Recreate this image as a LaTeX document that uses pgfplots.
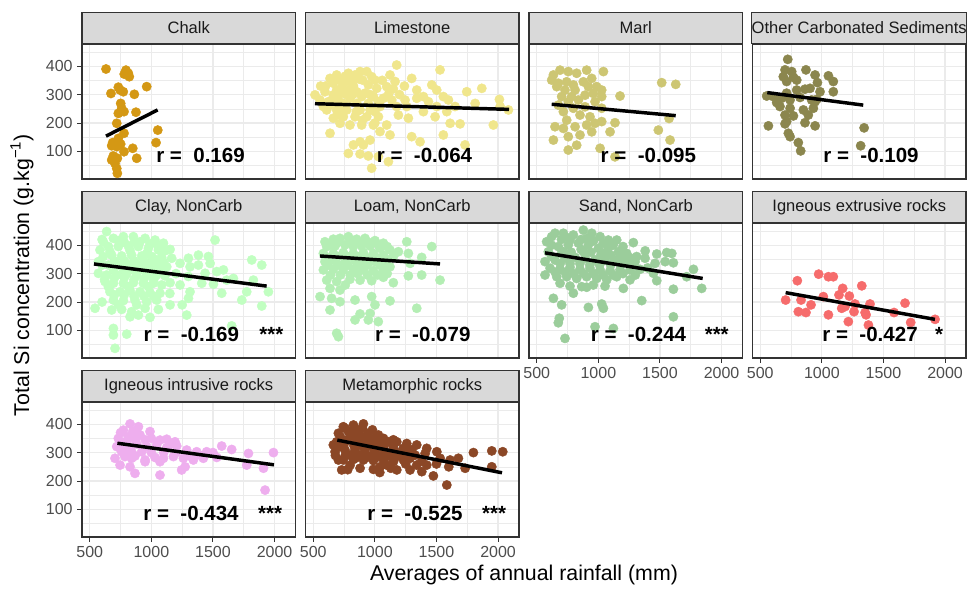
\documentclass[border=0pt]{standalone}
\usepackage{fontspec}
\setmainfont{Liberation Sans}
\usepackage{pgfplots}
\pgfplotsset{compat=1.18}

\definecolor{chalk}{RGB}{212,152,20}
\definecolor{limestone}{RGB}{240,230,140}
\definecolor{marl}{RGB}{205,198,115}
\definecolor{othercarb}{RGB}{139,134,78}
\definecolor{clay}{RGB}{193,255,193}
\definecolor{loam}{RGB}{180,238,180}
\definecolor{sand}{RGB}{155,205,155}
\definecolor{igext}{RGB}{246,108,108}
\definecolor{igint}{RGB}{238,174,238}
\definecolor{meta}{RGB}{139,71,38}
\definecolor{borderc}{RGB}{51,51,51}
\definecolor{gridc}{RGB}{235,235,235}
\definecolor{stripc}{RGB}{217,217,217}
\definecolor{tickc}{RGB}{77,77,77}
\definecolor{stript}{RGB}{26,26,26}

\tikzset{rlab/.style={font=\bfseries\fontsize{15.4}{16}\selectfont, anchor=base, inner sep=0pt}}

\pgfplotsset{
  facet/.style={
    scale only axis, width=160.125pt, height=101.25pt,
    xmin=437, xmax=2170, ymin=3, ymax=478,
    clip marker paths=true,
    axis line style={draw=borderc, line width=0.8pt},
    xtick={500,1000,1500,2000}, ytick={100,200,300,400},
    minor xtick={750,1250,1750}, minor ytick={50,150,250,350,450},
    xmajorgrids, ymajorgrids, xminorgrids, yminorgrids,
    major grid style={draw=gridc, line width=0.9pt},
    minor grid style={draw=gridc, line width=0.45pt},
    tick align=outside, tick pos=left,
    major tick length=3.5pt, minor tick length=0pt,
    ticklabel style={font=\fontsize{12}{13}\selectfont, text=tickc},
    /pgf/number format/assume math mode=true,
    /pgf/number format/1000 sep={},
    xticklabels={}, yticklabels={},
    xtick style={draw=none}, ytick style={draw=none},
    every axis title/.style={at={(0.5,1)}, anchor=south, draw=borderc, fill=stripc,
      line width=0.8pt, minimum width=160.125pt, minimum height=23.25pt, inner sep=0pt,
      text=stript, font=\fontsize{12.4}{13}\selectfont},
  },
  showx/.style={xticklabels={500,1000,1500,2000}, xtick style={draw=borderc, line width=0.75pt}},
  showy/.style={yticklabels={100,200,300,400}, ytick style={draw=borderc, line width=0.75pt}},
  pts/.style={only marks, color=#1, mark=*, mark size=3.5pt, mark options={draw=#1, fill=#1, line width=0.3pt}},
  reg/.style={black, line width=2.6pt, no marks},
}

\begin{document}
\begin{tikzpicture}
\useasboundingbox (0,0) rectangle (726pt,-442.5pt);

% ---------------- Row 1 ----------------
\begin{axis}[facet, showy, at={(61.5pt,-33pt)}, anchor=north west, title={Chalk}]
\addplot[pts=chalk] coordinates {
(632,390) (794,386) (813,375) (780,372) (821,363) (732,326) (746,316) (672,304) (772,310) (862,301)
(962,328) (751,269) (759,252) (778,240) (732,234) (875,238) (719,199) (1052,175) (732,146) (1038,131)
(678,120) (719,117) (849,111) (778,99) (691,84) (724,76) (881,76) (678,70) (705,58) (719,40)
(724,23) (751,126) (778,164) (686,131)};
\addplot[reg] coordinates {(632,154) (1051,246)};
\node[rlab] at (axis cs:1399,61) {r = \ 0.169};
\end{axis}

\begin{axis}[facet, at={(229.125pt,-33pt)}, anchor=north west, title={Limestone}]
\addplot[pts=limestone] coordinates {
(636,357) (690,369) (785,375) (880,381) (934,381) (974,363) (901,351) (771,346) (663,340) (731,326)
(826,330) (947,334) (1015,322) (853,310) (758,302) (663,299) (595,310) (514,299) (555,281) (623,275)
(704,281) (798,287) (893,293) (988,293) (1069,287) (1137,281) (1177,404) (1164,346) (1123,369) (1096,328)
(1245,281) (1299,357) (1340,316) (1394,293) (1462,334) (1529,387) (1502,316) (1556,293) (1597,281) (1651,258)
(1746,310) (1868,322) (1814,269) (1962,193) (2011,283) (2084,246) (2017,258) (1584,240) (1489,222) (1556,158)
(1394,240) (1340,287) (1272,217) (1177,258) (1042,258) (961,246) (880,246) (771,246) (690,246) (609,246)
(663,217) (744,222) (839,222) (934,222) (1029,222) (1096,193) (988,193) (893,193) (798,193) (717,199)
(636,164) (1042,170) (1123,158) (961,140) (880,134) (826,123) (907,123) (785,93) (880,91) (947,84)
(1029,82) (1110,64) (974,41) (1732,123) (1299,152) (1367,134) (1611,199) (1692,197) (1435,275) (1502,258)
(1029,275) (1259,258) (1191,228) (582,258) (717,351) (812,351) (744,269) (853,269) (947,269) (690,316)
(785,316) (920,305) (839,369) (1001,351) (636,264)
(600,330) (700,300) (760,365) (820,300) (870,355) (960,300) (1060,350) (1110,300) (650,280) (750,250)
(850,240) (1000,240) (1150,320) (1200,300) (560,330) (1240,330) (900,210) (1000,200) (700,230)};
\addplot[reg] coordinates {(514,268) (2089,248)};
\node[rlab] at (axis cs:1403,61) {r = \ -0.064};
\end{axis}

\begin{axis}[facet, at={(396.75pt,-33pt)}, anchor=north west, title={Marl}]
\addplot[pts=marl] coordinates {
(689,386) (635,369) (621,351) (756,381) (824,375) (905,386) (1041,381) (675,340) (743,345) (797,334)
(878,345) (946,357) (986,328) (1027,316) (959,304) (892,298) (811,316) (729,316) (662,328) (1176,295)
(838,281) (756,275) (675,263) (716,240) (797,252) (892,257) (973,275) (1027,252) (932,222) (851,228)
(743,210) (648,187) (716,181) (811,187) (905,193) (973,199) (1027,205) (1135,201) (1095,169) (946,169)
(851,158) (756,152) (635,140) (824,122) (756,105) (1014,111) (1135,81) (1514,342) (1628,336) (1574,216)
(1487,175) (1582,140) (1027,293) (783,293) (702,293) (919,328)};
\addplot[reg] coordinates {(621,266) (1628,226)};
\node[rlab] at (axis cs:1406,61) {r = \ -0.095};
\end{axis}

\begin{axis}[facet, at={(564.375pt,-33pt)}, anchor=north west, title={Other Carbonated Sediments}]
\addplot[pts=othercarb] coordinates {
(723,424) (701,387) (755,381) (687,363) (769,361) (714,346) (796,351) (871,387) (945,369) (1053,366)
(1093,346) (964,342) (904,322) (985,310) (1093,310) (796,316) (863,319) (552,295) (606,293) (674,287)
(742,281) (823,290) (945,275) (958,283) (660,258) (742,252) (850,246) (931,252) (701,228) (769,225)
(863,201) (945,190) (714,205) (566,190) (701,197) (728,164) (742,152) (809,131) (828,102) (1343,183)
(1315,120) (917,281) (714,305) (633,272) (890,228)};
\addplot[reg] coordinates {(557,307) (1336,263)};
\node[rlab] at (axis cs:1399,61) {r = \ -0.109};
\end{axis}

% ---------------- Row 2 ----------------
\begin{axis}[facet, showy, at={(61.5pt,-167.25pt)}, anchor=north west, title={Clay, NonCarb}]
\addplot[pts=clay] coordinates {
(637,448) (692,424) (773,430) (854,430) (949,424) (1030,418) (1098,407) (1152,385) (1517,418)
(583,383) (651,395) (732,395) (813,397) (895,395) (976,389) (1057,383)
(610,360) (678,365) (759,362) (840,365) (922,362) (1003,360) (1084,357) (1165,354) (1301,354) (1382,365) (1463,360) (1815,348)
(570,342) (651,330) (732,330) (813,330) (895,330) (976,330) (1057,330) (1125,324) (1233,336) (1314,324) (1382,330) (1477,336) (1585,313) (1896,330)
(570,301) (637,295) (719,295) (800,299) (881,295) (962,295) (1043,295) (1111,292) (1436,301) (1531,307) (1666,283)
(624,272) (692,266) (773,266) (854,268) (935,266) (1016,266) (1084,260) (1152,268) (1233,260) (1409,266) (1504,263) (1612,277) (1828,277)
(664,236) (746,236) (827,240) (908,236) (989,233) (1070,231) (1314,236) (1571,231) (1774,236) (1950,236)
(692,207) (773,205) (867,207) (962,201) (1043,207) (1301,213) (1734,207)
(543,178) (678,172) (759,174) (840,166) (949,178) (1057,174) (1152,190) (1896,186)
(827,148) (895,154) (989,146) (1287,154)
(692,107) (800,87) (692,84) (705,37) (1652,116)
(610,412) (732,416) (908,412) (989,404) (664,377) (827,381) (962,371) (1043,348) (692,313) (854,313)
(1016,313) (773,313) (935,313) (651,254) (813,254) (976,254) (732,190) (881,190)
(600,420) (780,410) (860,410) (1050,400) (1110,380) (600,330) (700,345) (780,345) (860,345) (940,345)
(1020,345) (1100,340) (620,280) (700,285) (780,285) (860,280) (940,280) (1020,280) (1200,300) (1300,290)
(1100,310) (700,225) (780,225) (860,220) (940,220) (1020,220) (1150,230) (600,200) (1250,190)};
\addplot[reg] coordinates {(534,334) (1936,256)};
\node[rlab] at (axis cs:1325,61) {r = \ -0.169};
\node[rlab] at (axis cs:1975,61) {***};
\end{axis}

\begin{axis}[facet, at={(229.125pt,-167.25pt)}, anchor=north west, title={Loam, NonCarb}]
\addplot[pts=loam] coordinates {
(595,412) (663,421) (717,424) (785,430) (852,421) (920,424) (1001,416) (1069,407) (1259,412) (1462,395)
(609,395) (677,397) (758,401) (825,395) (893,397) (961,397) (1042,389) (1123,383) (1191,377) (1272,371)
(582,371) (663,371) (744,374) (825,371) (907,374) (988,371) (1069,365) (1150,360)
(595,342) (677,346) (758,342) (839,346) (920,342) (1001,342) (1083,338) (1286,336) (1380,357)
(582,313) (663,315) (744,313) (825,315) (907,313) (988,310) (1069,313) (1123,324) (1272,292) (1380,295) (1529,277)
(609,277) (690,272) (798,280) (880,277) (974,275) (1069,287) (1150,268)
(636,248) (717,242) (555,219) (649,213) (717,201) (839,207) (974,219) (1123,204) (1001,190) (961,160)
(880,158) (839,137) (636,172) (1340,178) (1028,131) (947,137) (690,90) (704,78)
(640,400) (700,410) (800,415) (870,410) (950,410) (1030,400) (1100,395) (620,355) (700,360) (780,360)
(860,360) (940,355) (1020,355) (1100,350) (620,330) (700,330) (780,330) (860,330) (940,330) (1040,330)
(640,295) (720,295) (800,295) (860,300) (940,295) (1020,295) (760,260) (1100,300)};
\addplot[reg] coordinates {(555,362) (1529,334)};
\node[rlab] at (axis cs:1389,61) {r = \ -0.079};
\end{axis}

\begin{axis}[facet, showx, at={(396.75pt,-167.25pt)}, anchor=north west, title={Sand, NonCarb}]
\addplot[pts=sand] coordinates {
(580,412) (648,442) (716,442) (797,436) (878,453) (946,442) (1014,430) (1081,418) (1149,418) (1284,409)
(594,377) (675,395) (756,401) (838,407) (919,401) (1000,389) (1081,389) (1163,377) (1230,371) (1311,360) (1474,369) (1555,374) (1596,371)
(567,342) (648,348) (729,354) (811,357) (892,354) (973,348) (1054,348) (1135,348) (1217,342) (1298,342) (1379,354) (1460,336) (1542,342) (1609,338)
(608,319) (689,315) (770,322) (851,315) (932,319) (1014,313) (1095,310) (1176,313) (1257,313) (1338,315) (1447,301) (1772,315)
(567,295) (662,289) (743,289) (824,283) (905,289) (987,283) (1068,278) (1149,289) (1257,278) (1474,275) (1717,289) (1839,248)
(689,266) (770,256) (865,254) (959,260) (1054,256) (1203,248) (1609,245)
(635,213) (702,190) (797,231) (905,252) (919,181) (1027,193) (1041,178) (1352,205) (1609,148) (683,143)
(675,127) (729,72) (973,113) (1122,107)
(621,430) (770,418) (905,424) (1041,407) (716,377) (878,377) (1041,371)
(620,400) (700,420) (760,425) (860,420) (960,415) (1120,400) (1200,395) (1380,380) (620,360) (700,370)
(780,375) (860,385) (940,375) (1020,365) (1100,365) (1180,360) (1260,355) (690,335) (770,335) (850,335)
(930,330) (1010,330) (1100,330) (1180,330) (1260,330) (650,305) (730,305) (800,300) (880,300) (960,300)
(1040,295) (1120,295) (1200,300) (1300,295) (1400,320)};
\addplot[reg] coordinates {(567,373) (1847,283)};
\node[rlab] at (axis cs:1326,61) {r = \ -0.244};
\node[rlab] at (axis cs:1961,61) {***};
\end{axis}

\begin{axis}[facet, showx, at={(564.375pt,-167.25pt)}, anchor=north west, title={Igneous extrusive rocks}]
\addplot[pts=igext] coordinates {
(706,207) (801,275) (831,207) (809,166) (871,163) (912,190) (974,298) (1053,289) (1093,289) (1012,219)
(1053,155) (1139,225) (1169,248) (1161,178) (1188,184) (1223,221) (1269,193) (1261,166) (1215,131) (1324,257)
(1351,163) (1359,155) (1378,119) (1391,193) (1586,163) (1675,196) (1721,128) (1919,139)};
\addplot[reg] coordinates {(706,233) (1918,139)};
\node[rlab] at (axis cs:1391,61) {r = \ -0.427};
\node[rlab] at (axis cs:1951,61) {*};
\end{axis}

% ---------------- Row 3 ----------------
\begin{axis}[facet, showx, showy, at={(61.5pt,-301.5pt)}, anchor=north west, title={Igneous intrusive rocks}]
\addplot[pts=igint] coordinates {
(827,401) (895,391) (773,379) (989,374) (732,350) (813,356) (908,362) (1070,344) (1125,347) (1192,338)
(719,321) (800,327) (881,330) (962,321) (1043,327) (1125,318) (1206,323) (1287,309) (1368,303) (1449,303)
(1571,323) (1652,311) (1788,297) (1991,300)
(705,280) (786,286) (867,288) (949,274) (1030,283) (1098,280) (1179,286) (1260,280) (1341,274) (1422,280) (1531,283)
(746,256) (827,250) (949,268) (1070,268) (1274,250) (1774,256) (1910,245) (867,227) (1070,221) (1246,239) (1923,168)
(759,303) (840,303) (922,303) (881,368) (840,280)
(750,370) (850,375) (800,340) (870,345) (950,345) (1000,350) (780,300) (1000,300) (1100,300) (1200,300)
(1300,290) (1400,290) (1500,300) (1160,330) (760,330)};
\addplot[reg] coordinates {(724,333) (1995,257)};
\node[rlab] at (axis cs:1322,61) {r = \ -0.434};
\node[rlab] at (axis cs:1964,61) {***};
\end{axis}

\begin{axis}[facet, showx, at={(229.125pt,-301.5pt)}, anchor=north west, title={Metamorphic rocks}]
\addplot[pts=meta] coordinates {
(744,391) (826,397) (907,401) (704,368) (785,374) (866,374) (947,368) (1029,362) (690,338) (772,344)
(853,344) (934,342) (1015,338) (1110,338) (1178,338) (1259,332) (1340,327) (1421,315) (1503,303)
(677,303) (758,309) (839,309) (920,309) (1002,307) (1083,303) (1164,303) (1245,303) (1327,291) (1408,297)
(1530,280) (1611,274) (1678,280) (1800,300) (1949,306) (2038,303)
(744,274) (826,276) (907,274) (988,272) (1069,274) (1151,268) (1232,274) (1340,256) (1421,256) (1733,245) (1949,250)
(731,239) (880,245) (988,241) (1178,239) (1286,239) (1381,233) (1475,218) (1584,186) (1096,256)
(799,356) (880,327) (961,327) (1042,323) (718,321) (799,291) (880,291) (961,288) (1042,288) (1124,288)
(1205,288) (1286,280) (663,327) (704,274) (799,256) (1042,250)
(760,385) (840,385) (900,385) (980,380) (720,355) (830,360) (900,355) (990,350) (1070,350) (1150,345)
(750,330) (830,325) (910,320) (990,315) (1070,320) (1150,320) (1230,315) (1300,310) (680,290) (760,290)
(840,280) (920,280) (1000,280) (1080,280) (1160,280) (1250,260) (1380,270) (780,240) (1040,230) (1130,245)
(1500,260) (1600,250)};
\addplot[reg] coordinates {(695,344) (2032,229)};
\node[rlab] at (axis cs:1326,61) {r = \ -0.525};
\node[rlab] at (axis cs:1968,61) {***};
\end{axis}

% axis titles
\node[font=\fontsize{16}{17}\selectfont, text=black] at (393pt,-431.25pt) {Averages of annual rainfall (mm)};
\node[font=\fontsize{16}{17}\selectfont, text=black, rotate=90] at (16.5pt,-206.25pt) {Total Si concentration (g.kg\textsuperscript{−1})};
\end{tikzpicture}
\end{document}
